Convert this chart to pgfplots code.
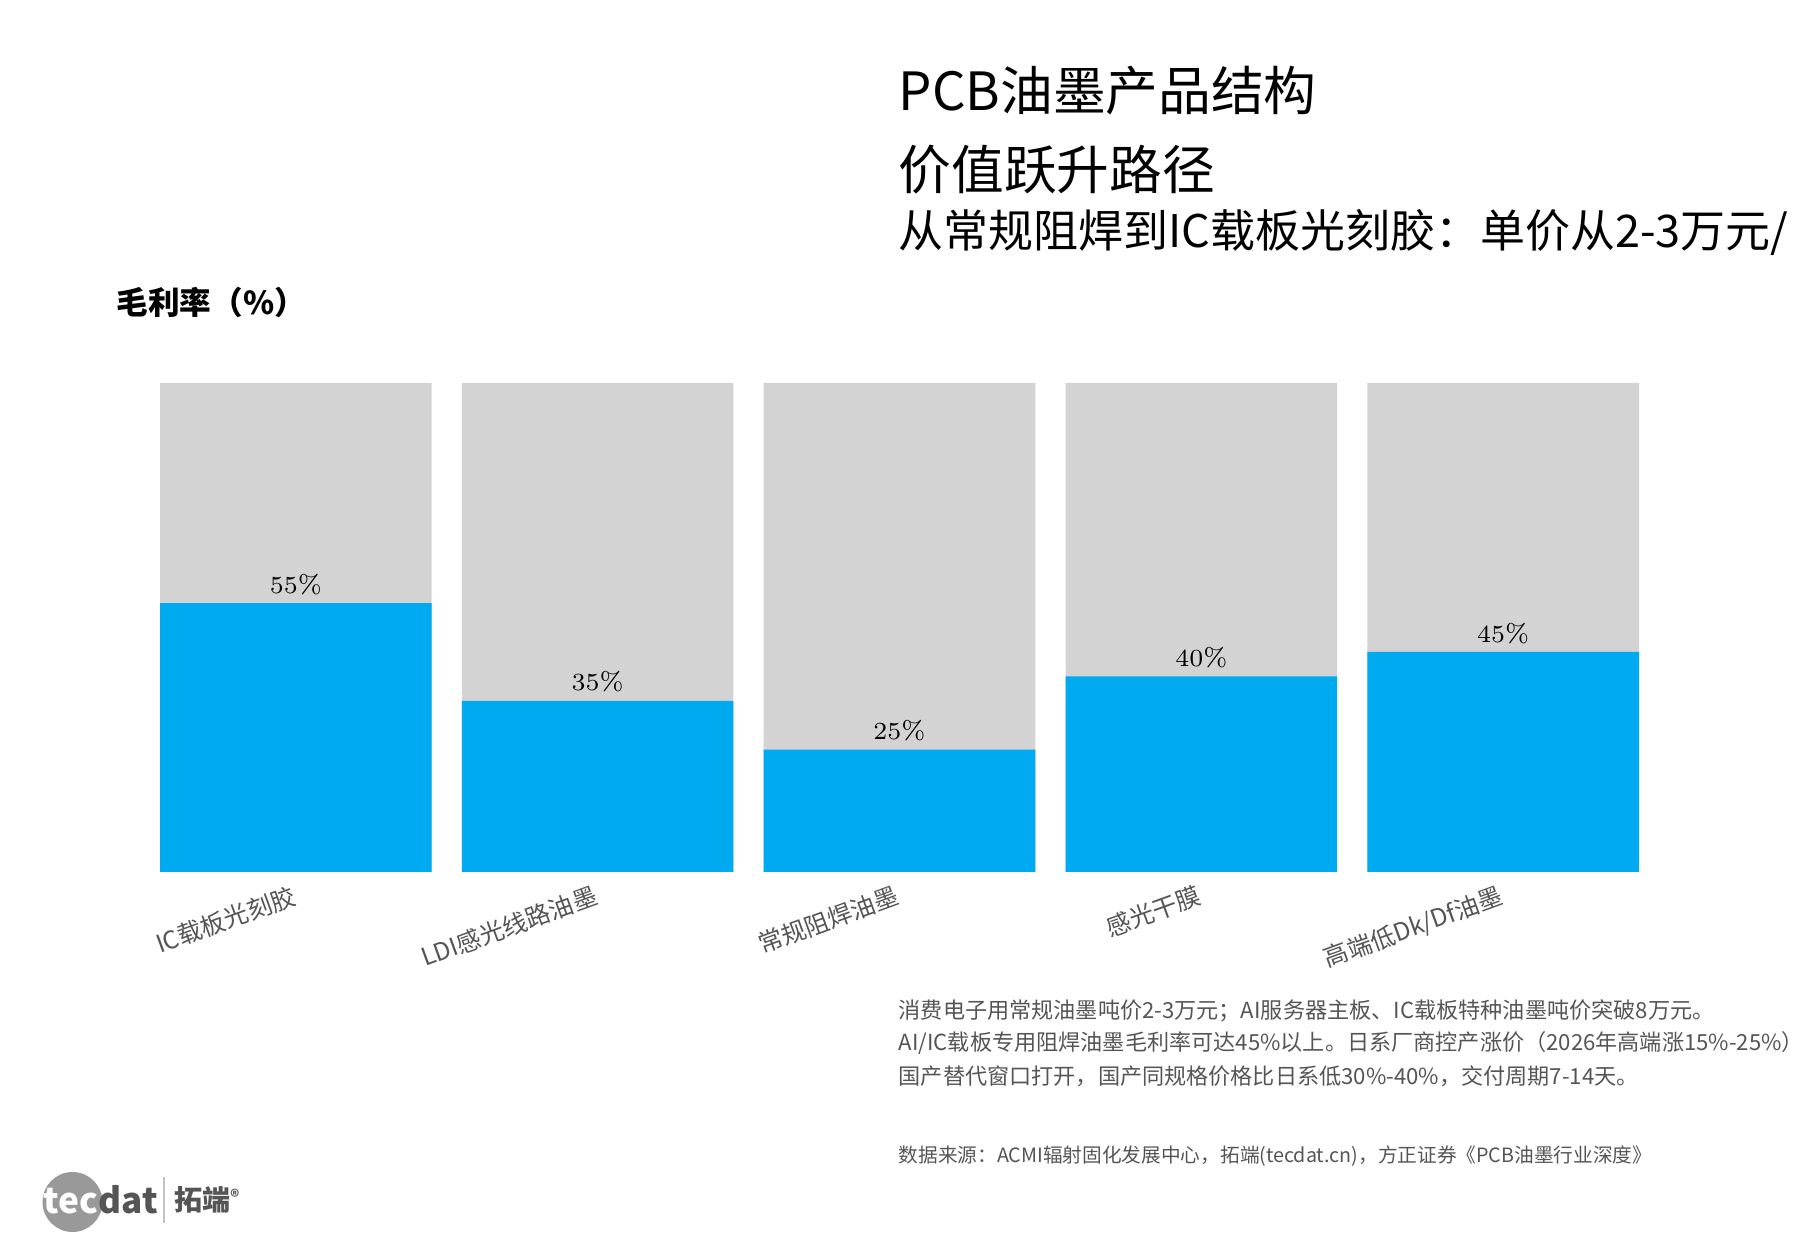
\documentclass[border=0pt]{standalone}
\usepackage{fontspec}
\usepackage{pgfplots}
\pgfplotsset{compat=1.18}
\newfontfamily\cjk{Noto Sans CJK SC}
\definecolor{barblue}{HTML}{00AAF0}
\definecolor{bargrey}{HTML}{D3D3D3}
\definecolor{txtgrey}{HTML}{555555}
\definecolor{logogrey}{HTML}{999999}
\begin{document}
\begin{tikzpicture}[x=1mm,y=1mm]
\path[use as bounding box] (0,0) rectangle (180,126);
% titles
\node[anchor=west,inner sep=0,font=\cjk\fontsize{15}{18}\selectfont] at (89.8,116.9) {PCB油墨产品结构};
\node[anchor=west,inner sep=0,font=\cjk\fontsize{15}{18}\selectfont] at (89.8,109.0) {价值跃升路径};
\node[anchor=west,inner sep=0,font=\cjk\fontsize{12.8}{15}\selectfont] at (89.8,102.7) {从常规阻焊到IC载板光刻胶：单价从2-3万元/};
\node[anchor=west,inner sep=0,font=\cjk\bfseries\fontsize{9}{11}\selectfont] at (11.6,95.7) {毛利率（\%）};
\begin{axis}[
  at={(16mm,38.8mm)}, anchor=south west,
  scale only axis, width=147.9mm, height=48.9mm,
  xmin=-0.45, xmax=4.45, ymin=0, ymax=100,
  ybar, bar width=0.9,
  axis line style={draw=none}, major tick length=0pt,
  ytick=\empty,
  xtick={0,1,2,3,4},
  xticklabels={IC载板光刻胶,LDI感光线路油墨,常规阻焊油墨,感光干膜,高端低Dk/Df油墨},
  xticklabel style={font=\cjk\fontsize{7}{8}\selectfont, text=txtgrey, rotate=20, anchor=north east, yshift=0.3mm, xshift=0.3mm},
  clip=false,
]
\addplot[fill=bargrey, draw=none, bar shift=0pt] coordinates {(0,100) (1,100) (2,100) (3,100) (4,100)};
\addplot[fill=barblue, draw=none, bar shift=0pt,
  nodes near coords={\pgfmathprintnumber{\pgfplotspointmeta}\%},
  nodes near coords style={font=\fontsize{7.3}{8.5}\selectfont, text=black, anchor=south, yshift=-0.4mm}]
  coordinates {(0,55) (1,35) (2,25) (3,40) (4,45)};
\end{axis}
% notes
\begin{scope}[every node/.style={anchor=west,inner sep=0,font=\cjk\fontsize{6.3}{7.5}\selectfont,text=txtgrey}]
\node at (89.8,24.9) {消费电子用常规油墨吨价2-3万元；AI服务器主板、IC载板特种油墨吨价突破8万元。};
\node at (89.8,21.7) {AI/IC载板专用阻焊油墨毛利率可达45\%以上。日系厂商控产涨价（2026年高端涨15\%-25\%），};
\node at (89.8,18.4) {国产替代窗口打开，国产同规格价格比日系低30\%-40\%，交付周期7-14天。};
\node[font=\cjk\fontsize{5.6}{7}\selectfont] at (89.8,10.4) {数据来源：ACMI辐射固化发展中心，拓端(tecdat.cn)，方正证券《PCB油墨行业深度》};
\end{scope}
% logo
\fill[logogrey] (7.25,5.8) circle (3.0);
\node[anchor=west,inner sep=0,font=\cjk\bfseries\fontsize{10}{12}\selectfont] at (4.3,6.0) {\textcolor{white}{tec}\textcolor{txtgrey}{dat}};
\draw[logogrey!60,line width=0.3pt] (16.4,3.7) -- (16.4,8.3);
\node[anchor=west,inner sep=0,font=\cjk\bfseries\fontsize{8}{10}\selectfont,text=txtgrey] at (17.4,6.0) {拓端\raisebox{0.5ex}{\fontsize{5}{6}\selectfont®}};
\end{tikzpicture}
\end{document}
